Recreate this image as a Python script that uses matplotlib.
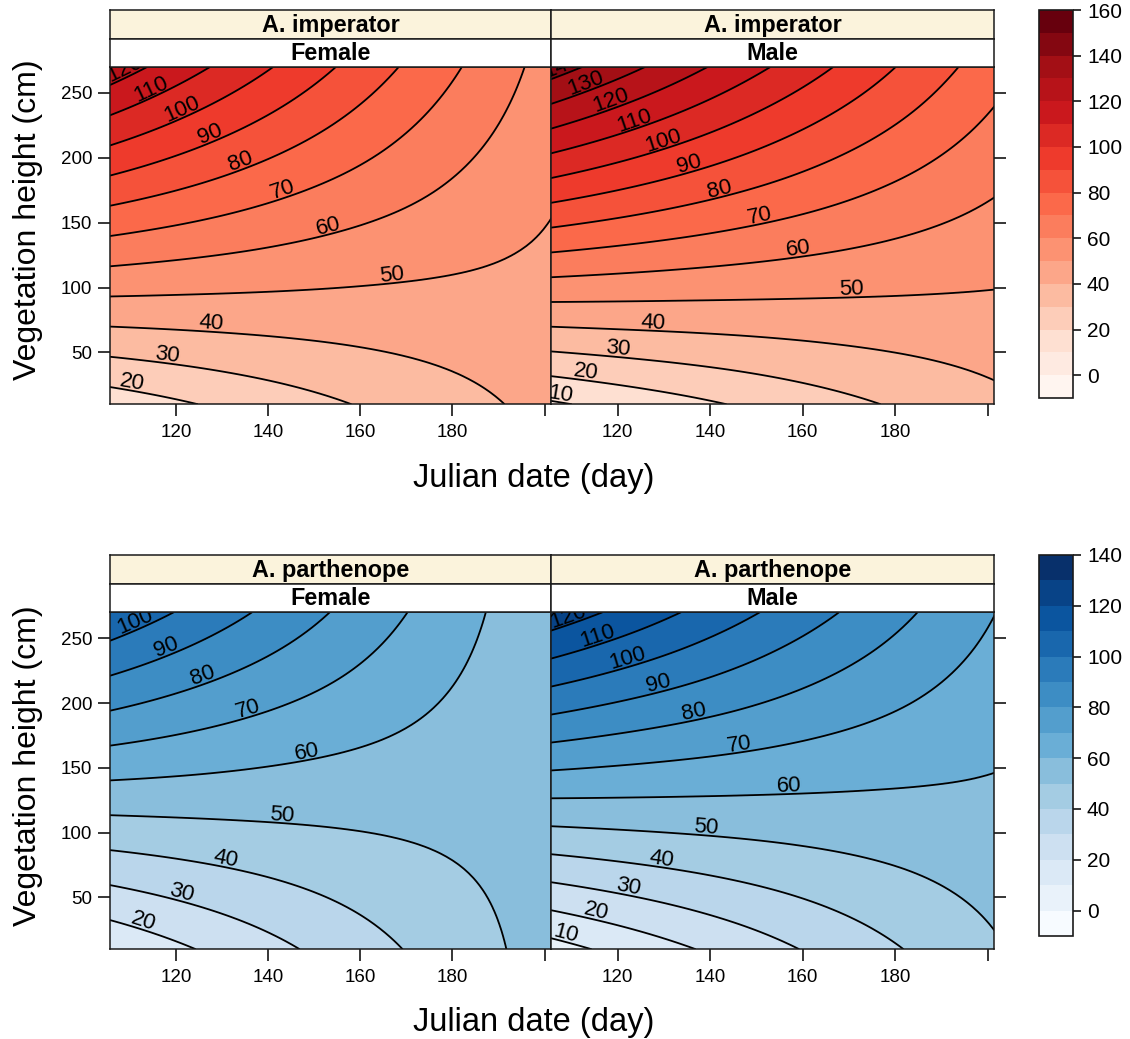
import numpy as np
import matplotlib
matplotlib.use("Agg")
import matplotlib.pyplot as plt
import matplotlib.tri as mtri
import matplotlib.colorbar as mcolorbar
from matplotlib.colors import ListedColormap, BoundaryNorm, LinearSegmentedColormap
from matplotlib.transforms import ScaledTranslation

plt.rcParams['font.family'] = ['Liberation Sans', 'DejaVu Sans']

# ---------------- data ----------------
species = ["A. imperator", "A. parthenope"]
sexes = ["Female", "Male"]

julian_day = [105.5, 124.7, 143.9, 163.1, 182.3, 201.5]
veg_height = [10.0, 62.0, 114.0, 166.0, 218.0, 270.0]

# rows follow veg_height, columns follow julian_day
z_imperator_female = [
    [14.3, 20.0, 25.8, 31.5, 37.3, 43.0],
    [36.6, 38.4, 40.2, 42.0, 43.8, 45.5],
    [59.0, 56.8, 54.6, 52.4, 50.3, 48.1],
    [81.3, 75.2, 69.0, 62.9, 56.8, 50.6],
    [103.7, 93.6, 83.5, 73.4, 63.3, 53.2],
    [126.0, 111.9, 97.9, 83.8, 69.8, 55.7],
]
z_imperator_male = [
    [8.6, 14.4, 20.1, 25.9, 31.6, 37.4],
    [35.9, 37.7, 39.4, 41.2, 43.0, 44.8],
    [63.2, 61.0, 58.8, 56.6, 54.4, 52.2],
    [90.4, 84.3, 78.1, 71.9, 65.7, 59.5],
    [117.7, 107.6, 97.4, 87.2, 77.1, 66.9],
    [145.0, 130.9, 116.7, 102.6, 88.4, 74.3],
]
z_parthenope_female = [
    [11.6, 20.2, 28.7, 37.3, 45.8, 54.4],
    [30.9, 35.5, 40.1, 44.7, 49.3, 53.8],
    [50.2, 50.9, 51.5, 52.1, 52.7, 53.3],
    [69.6, 66.2, 62.8, 59.5, 56.1, 52.7],
    [88.9, 81.5, 74.2, 66.9, 59.5, 52.2],
    [108.2, 96.9, 85.6, 74.2, 62.9, 51.6],
]
z_parthenope_male = [
    [6.0, 14.6, 23.1, 31.7, 40.2, 48.8],
    [30.1, 34.7, 39.3, 43.9, 48.5, 53.1],
    [54.2, 54.9, 55.5, 56.1, 56.7, 57.4],
    [78.4, 75.0, 71.7, 68.3, 65.0, 61.6],
    [102.5, 95.2, 87.9, 80.5, 73.2, 65.9],
    [126.6, 115.3, 104.0, 92.8, 81.5, 70.2],
]

red_levels = list(range(-10, 161, 10))
blue_levels = list(range(-10, 141, 10))
red_ticks = [0, 20, 40, 60, 80, 100, 120, 140, 160]
blue_ticks = [0, 20, 40, 60, 80, 100, 120, 140]
x_ticks = [120, 140, 160, 180, 200]
x_ticklabels = ["120", "140", "160", "180", ""]
y_ticks = [50, 100, 150, 200, 250]

# ---------------- styling ----------------
reds9 = ["#FFF5F0", "#FEE0D2", "#FCBBA1", "#FC9272", "#FB6A4A",
         "#EF3B2C", "#CB181D", "#A50F15", "#67000D"]
blues9 = ["#F7FBFF", "#DEEBF7", "#C6DBEF", "#9ECAE1", "#6BAED6",
          "#4292C6", "#2171B5", "#08519C", "#08306B"]


def ramp(cols, n):
    base = LinearSegmentedColormap.from_list("r", cols)
    return ListedColormap([base(i / (n - 1)) for i in range(n)])


red_cmap = ramp(reds9, len(red_levels) - 1)
blue_cmap = ramp(blues9, len(blue_levels) - 1)
red_norm = BoundaryNorm(red_levels, red_cmap.N)
blue_norm = BoundaryNorm(blue_levels, blue_cmap.N)

# label anchor spots (layout only)
label_spots = {
    ("A. imperator", "Female"): [(109.3, 265), (114.7, 252.6), (121.2, 237.1), (127.4, 217.9),
                                 (134.2, 196), (143.3, 174.2), (153, 147.2), (166.8, 109.9),
                                 (127.7, 72.6), (118, 48.2), (110.4, 27.6)],
    ("A. imperator", "Male"): [(108.4, 266.7), (113.1, 257.7), (118.6, 243.6), (123.6, 229.4),
                               (129.8, 212.7), (135.5, 196), (142, 176.7), (150.7, 156.2),
                               (159, 130.5), (170.6, 99.6), (127.6, 73.9), (120, 53.3),
                               (113.1, 35.3), (107.7, 17.4)],
    ("A. parthenope", "Female"): [(111.1, 262.7), (118, 242), (125.9, 220), (135.7, 194.2),
                                  (148.3, 161.9), (142.9, 114.1), (130.6, 79.2), (121.2, 53.4),
                                  (112.9, 31.4)],
    ("A. parthenope", "Male"): [(109.5, 265.2), (115.7, 252.3), (122.2, 234.2), (129, 213.6),
                                (136.6, 193), (146.4, 168.3), (157.2, 136), (139.1, 103.7),
                                (129.4, 79.2), (122.2, 57.2), (115.3, 39.1), (108.8, 21.1)],
}

surfaces = {
    ("A. imperator", "Female"): z_imperator_female,
    ("A. imperator", "Male"): z_imperator_male,
    ("A. parthenope", "Female"): z_parthenope_female,
    ("A. parthenope", "Male"): z_parthenope_male,
}

W, H = 1130, 1039
fig = plt.figure(figsize=(W / 100, H / 100), dpi=100)


def box(l, t, r, b):
    return [l / W, 1 - b / H, (r - l) / W, (b - t) / H]


rows = [
    dict(sp=(10, 38.5), sx=(38.5, 67), pn=(67, 404), cb=(10, 398), xl=478, yl=220,
         cmap=red_cmap, norm=red_norm, levels=red_levels, ticks=red_ticks),
    dict(sp=(555, 583.5), sx=(583.5, 612.3), pn=(612.3, 949), cb=(555, 936), xl=1022, yl=766,
         cmap=blue_cmap, norm=blue_norm, levels=blue_levels, ticks=blue_ticks),
]
cols = [(110, 551), (551, 994)]

X, Y = np.meshgrid(julian_day, veg_height)
nx, ny = len(julian_day), len(veg_height)
triangles = []
for j in range(ny - 1):
    for i in range(nx - 1):
        p = j * nx + i
        triangles.append([p, p + 1, p + nx])
        triangles.append([p + 1, p + nx + 1, p + nx])
tri = mtri.Triangulation(X.ravel(), Y.ravel(), triangles)
refiner = mtri.UniformTriRefiner(tri)

strip_bg = "#FBF3DC"
edge = "#1a1a1a"
lift = 8.0 / 100.0  # inches: labels sit on top of the line

for r, row in enumerate(rows):
    sp = species[r]
    for c, (l, rr) in enumerate(cols):
        sx = sexes[c]
        z = np.asarray(surfaces[(sp, sx)], dtype=float).ravel()
        tri_f, z_f = refiner.refine_field(z, subdiv=4)
        ax = fig.add_axes(box(l, row["pn"][0], rr, row["pn"][1]))
        ax.set_xlim(105.6, 201.4)
        ax.set_ylim(10.2, 270)
        ax.tricontourf(tri_f, z_f, levels=row["levels"], cmap=row["cmap"], norm=row["norm"],
                       antialiased=False)
        line_lv = [v for v in row["levels"] if 0 < v < row["levels"][-1]]
        cs = ax.tricontour(tri_f, z_f, levels=line_lv, colors="black", linewidths=1.3)
        ax.clabel(cs, manual=label_spots[(sp, sx)], inline=False,
                  fontsize=16, fmt="%d")
        for t in cs.labelTexts:
            t.set_clip_on(True)
            a = np.deg2rad(t.get_rotation())
            off = ScaledTranslation(-np.sin(a) * lift, np.cos(a) * lift, fig.dpi_scale_trans)
            t.set_transform(t.get_transform() + off)
        ax.set_xticks(x_ticks)
        ax.set_xticklabels(x_ticklabels)
        ax.set_yticks(y_ticks)
        ax.tick_params(axis="x", direction="out", length=8.6, width=1.1, labelsize=13.5,
                       colors="black", pad=5.5)
        ax.tick_params(axis="y", direction="out", length=8.6, width=1.1, labelsize=13.5,
                       colors="black", pad=4.3)
        if c == 0:
            ax.tick_params(axis="y", left=True, right=False, labelleft=True)
        else:
            ax.tick_params(axis="y", left=False, right=True, labelleft=False, labelright=False)
        for s in ax.spines.values():
            s.set_color(edge)
            s.set_linewidth(1.1)

        # strips
        for (t0, t1), txt, bg in [(row["sp"], sp, strip_bg), (row["sx"], sx, "white")]:
            sa = fig.add_axes(box(l, t0, rr, t1))
            sa.set_facecolor(bg)
            sa.set_xticks([])
            sa.set_yticks([])
            for s in sa.spines.values():
                s.set_color(edge)
                s.set_linewidth(1.1)
            sa.text(0.5, 0.47, txt, ha="center", va="center", fontsize=16.8,
                    fontweight="bold", transform=sa.transAxes)

    # colour key
    cax = fig.add_axes(box(1039, row["cb"][0], 1073, row["cb"][1]))
    cb = mcolorbar.Colorbar(cax, cmap=row["cmap"], norm=row["norm"],
                            boundaries=row["levels"], ticks=row["ticks"], drawedges=False)
    cb.outline.set_edgecolor(edge)
    cb.outline.set_linewidth(1.2)
    cax.minorticks_off()
    cax.tick_params(which="minor", length=0)
    cax.tick_params(direction="out", length=6, width=1.1, labelsize=15, pad=4)

    fig.text(534 / W, 1 - row["xl"] / H, "Julian date (day)", ha="center", va="center",
             fontsize=23.5)
    fig.text(28 / W, 1 - row["yl"] / H, "Vegetation height (cm)", ha="center", va="center",
             rotation=90, fontsize=23)

fig.savefig("out.png", dpi=100)
